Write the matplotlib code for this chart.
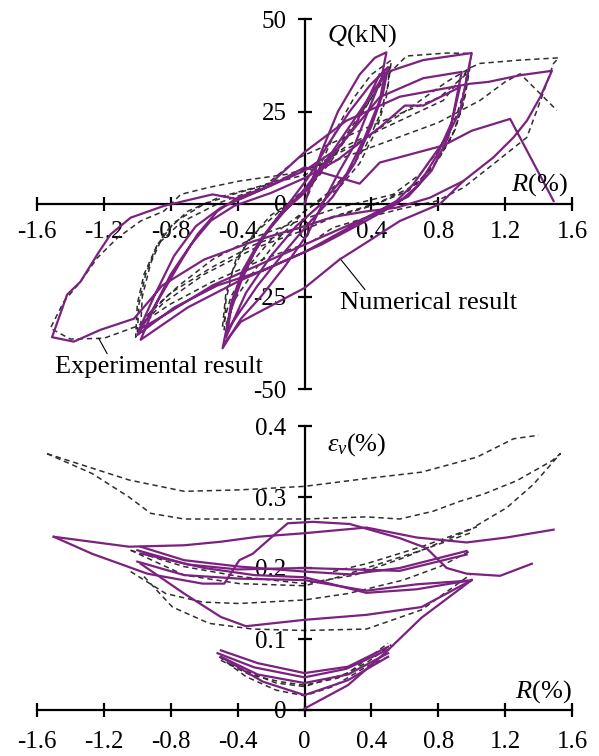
import matplotlib.pyplot as plt

plt.rcParams['font.family'] = 'Liberation Serif'
plt.rcParams['mathtext.fontset'] = 'custom'
plt.rcParams['mathtext.rm'] = 'Liberation Serif'
plt.rcParams['mathtext.it'] = 'Liberation Serif:italic'
plt.rcParams['axes.unicode_minus'] = False

PURPLE = '#7c2180'
GREY = '#2f2f2f'

# ---- Q-R hysteresis, numerical (R %, Q kN) ----
num_q_small = [(0, 0), (0.1, 14), (0.2, 25), (0.33, 35), (0.42, 39.5), (0.49, 41),
               (0.46, 34), (0.38, 25), (0.3, 16), (0.21, 9), (0.13, 2), (0.02, -8), (-0.12, -17),
               (-0.26, -25), (-0.38, -31), (-0.49, -39),
               (-0.45, -30), (-0.38, -21), (-0.3, -13), (-0.2, -6), (-0.08, 1), (0.02, 7), (0.14, 16),
               (0.27, 25), (0.39, 32), (0.5, 37),
               (0.47, 30), (0.4, 21), (0.3, 11), (0.17, 2), (0.03, -5), (-0.12, -13), (-0.28, -22),
               (-0.46, -34),
               (-0.43, -26), (-0.35, -17), (-0.25, -9), (-0.12, -2), (0, 4), (0.15, 13), (0.3, 23),
               (0.48, 35),
               (0.45, 28), (0.36, 18), (0.25, 8), (0.1, 0), (-0.05, -6), (-0.2, -14), (-0.35, -24),
               (-0.47, -36),
               (-0.44, -27), (-0.37, -18), (-0.27, -10), (-0.15, -3), (0, 3), (0.15, 12), (0.3, 21),
               (0.45, 35)]
num_q_mid = [(0.45, 35), (0.71, 38.9), (1.0, 40.8),
             (0.93, 25), (0.85, 18), (0.75, 11.7), (0.65, 5.3), (0.55, 0.8), (0.4, -3), (0.2, -8),
             (0, -13), (-0.25, -18), (-0.52, -22), (-0.78, -28), (-1.0, -35.4),
             (-0.88, -26.4), (-0.74, -15.5), (-0.64, -8.2), (-0.52, -1.9), (-0.4, 1.7), (-0.2, 5),
             (0, 9), (0.2, 15), (0.45, 28.9), (0.71, 34), (0.94, 35.7),
             (0.88, 22), (0.79, 13), (0.68, 5), (0.55, 0), (0.35, -5), (0.1, -11), (-0.15, -16),
             (-0.4, -21), (-0.7, -28), (-0.98, -36.7),
             (-0.9, -28), (-0.8, -19), (-0.68, -11), (-0.56, -4.5), (-0.42, -0.5), (-0.2, 3), (0, 7),
             (0.2, 12), (0.45, 20.7), (0.6, 26.6), (0.71, 26.6), (0.93, 31.6),
             (0.86, 18), (0.76, 9), (0.62, 2), (0.4, -3), (0.2, -7), (0, -11), (-0.3, -17),
             (-0.55, -22), (-0.8, -29), (-0.99, -34)]
num_q_large = [(-0.99, -34), (-0.9, -25), (-0.78, -14), (-0.65, -6), (-0.5, -1), (-0.23, 4.4),
               (0, 14), (0.25, 22.5), (0.57, 29), (0.99, 32.5), (1.1, 33), (1.29, 34.8), (1.48, 36),
               (1.41, 28.9), (1.33, 22.5), (1.25, 18), (1.13, 12.6), (0.95, 6.2), (0.75, 1.7),
               (0.55, -1), (0.37, -2), (0.17, -3.5), (0, -6), (-0.3, -10), (-0.6, -15), (-0.85, -22),
               (-1.02, -31), (-1.22, -34), (-1.38, -37.2), (-1.51, -36),
               (-1.42, -24.5), (-1.34, -21), (-1.24, -13.7), (-1.16, -8.2), (-1.04, -3.7),
               (-0.84, -0.5), (-0.55, 2.6), (-0.4, 1.3), (-0.2, 5), (0, 9.9), (0.21, 7.1),
               (0.33, 5.5), (0.45, 11.2), (0.83, 15.8), (1.0, 19.8), (1.23, 23), (1.49, 0.8)]
num_q_branch = [(-0.47, -37), (-0.38, -31.8), (0, -22.7), (0.21, -15), (0.35, -11), (0.57, -4.6),
                (0.81, 0), (0.95, 6.2)]

# ---- Q-R hysteresis, experimental ----
exp_q_small = [(0, 0), (0.1, 11), (0.2, 21), (0.3, 29), (0.4, 35), (0.52, 38.9),
               (0.5, 32), (0.45, 24), (0.37, 16), (0.27, 9), (0.14, 3), (0, -2), (-0.15, -9),
               (-0.3, -18), (-0.42, -26), (-0.48, -34),
               (-0.47, -26), (-0.43, -18), (-0.34, -10), (-0.2, -3), (0, 3), (0.15, 11), (0.3, 21),
               (0.43, 31), (0.51, 37),
               (0.49, 29), (0.43, 20), (0.33, 11), (0.2, 4), (0.03, -1), (-0.15, -7), (-0.32, -16),
               (-0.44, -25), (-0.49, -33),
               (-0.47, -24), (-0.41, -15), (-0.3, -8), (-0.15, -2), (0, 4), (0.15, 12), (0.3, 22),
               (0.42, 30), (0.5, 35)]
exp_q_mid = [(0.5, 35), (0.61, 40), (0.85, 40.8), (1.0, 40.7),
             (0.97, 33), (0.91, 24), (0.81, 15), (0.69, 8), (0.53, 2.6), (0.37, 0.8), (0.2, -1),
             (0, -4), (-0.3, -9), (-0.55, -15), (-0.75, -22), (-0.92, -29), (-1.0, -35),
             (-0.99, -27), (-0.95, -19), (-0.88, -11), (-0.78, -5), (-0.6, 0), (-0.4, 3),
             (-0.2, 5.5), (0.01, 8), (0.27, 16.2), (0.57, 22.5), (0.83, 28), (0.99, 37),
             (0.96, 29), (0.9, 20), (0.8, 12), (0.66, 5), (0.45, 0.5), (0.2, -3), (0, -6),
             (-0.3, -11), (-0.55, -17), (-0.8, -24), (-0.96, -31), (-1.01, -36),
             (-1.0, -27), (-0.96, -19), (-0.88, -11), (-0.74, -5), (-0.5, 0.5), (-0.25, 4.5),
             (-0.03, 12.6), (0.33, 19.8), (0.57, 24.4), (0.81, 28.9), (0.97, 35.2),
             (0.95, 27), (0.88, 18), (0.77, 10), (0.62, 3.5), (0.4, -0.5), (0.15, -4), (0, -7),
             (-0.3, -12), (-0.6, -19), (-0.85, -27), (-0.98, -33)]
exp_q_large = [(-0.98, -33), (-0.97, -25), (-0.92, -16), (-0.84, -8), (-0.7, -2), (-0.5, 2),
               (-0.25, 5), (0, 9), (0.3, 16), (0.6, 25), (0.85, 33), (1.0, 37), (1.05, 38),
               (1.29, 38.9), (1.52, 39.5),
               (1.49, 38), (1.42, 29), (1.33, 18), (1.13, 10.8), (0.95, 4.4), (0.79, 0.8),
               (0.57, -1.4), (0.37, -3.7), (0.17, -6.4), (0.05, -10), (-0.25, -15), (-0.55, -21),
               (-0.8, -27), (-1.0, -33), (-1.2, -36.3), (-1.4, -36.5), (-1.52, -33.6),
               (-1.44, -26.4), (-1.34, -21), (-1.24, -14.6), (-1.12, -9.2), (-0.98, -4.6),
               (-0.84, -1.9), (-0.74, 2.6), (-0.58, 4.4), (-0.39, 6.2), (-0.11, 8), (0.2, 12),
               (0.5, 17), (0.8, 22), (1.05, 28), (1.2, 33), (1.29, 35.2), (1.51, 25.3)]

# ---- volumetric strain vs R, numerical (R %, eps_v %) ----
num_ev_curves = [
    [(0, 0.002), (0.26, 0.035), (0.48, 0.08), (0.7, 0.13), (1.0, 0.183)],
    [(-0.5, 0.084), (-0.28, 0.066), (0, 0.052), (0.26, 0.061), (0.5, 0.089)],
    [(-0.52, 0.08), (-0.3, 0.06), (0, 0.046), (0.25, 0.058), (0.5, 0.085)],
    [(-0.5, 0.075), (-0.28, 0.05), (0, 0.038), (0.26, 0.05), (0.5, 0.08)],
    [(-0.48, 0.072), (-0.25, 0.04), (0, 0.021), (0.26, 0.042), (0.5, 0.075)],
    [(-0.98, 0.206), (-0.72, 0.164), (-0.5, 0.131), (-0.35, 0.118), (0, 0.127), (0.37, 0.134),
     (0.7, 0.145), (1.0, 0.183)],
    [(-1.0, 0.209), (-0.72, 0.19), (-0.39, 0.185), (0, 0.183), (0.37, 0.168), (0.67, 0.177),
     (0.97, 0.182)],
    [(-0.98, 0.23), (-0.72, 0.211), (-0.39, 0.202), (0, 0.195), (0.27, 0.191), (0.57, 0.2),
     (0.97, 0.224)],
    [(-1.0, 0.225), (-0.7, 0.205), (-0.4, 0.198), (0, 0.2), (0.57, 0.196), (0.97, 0.219)],
    [(-0.97, 0.22), (-0.6, 0.2), (-0.3, 0.19), (0, 0.187), (0.37, 0.165), (0.67, 0.17),
     (1.0, 0.183)],
    [(-1.5, 0.244), (-1.05, 0.23), (-0.72, 0.232), (-0.5, 0.237), (-0.28, 0.244), (0, 0.249),
     (0.37, 0.257), (0.67, 0.243), (0.97, 0.236), (1.21, 0.243), (1.49, 0.254)],
    [(-1.5, 0.244), (-1.27, 0.22), (-0.94, 0.192), (-0.61, 0.178), (-0.48, 0.178),
     (-0.39, 0.211), (-0.31, 0.22), (-0.17, 0.249), (-0.1, 0.263), (0.05, 0.265),
     (0.27, 0.262), (0.57, 0.242), (0.73, 0.228), (0.85, 0.2), (0.97, 0.192), (1.17, 0.189),
     (1.36, 0.206)],
]

# ---- volumetric strain vs R, experimental ----
exp_ev_curves = [
    [(-0.51, 0.075), (-0.35, 0.047), (-0.17, 0.028), (0, 0.02), (0.17, 0.033), (0.37, 0.061),
     (0.52, 0.077)],
    [(-0.5, 0.07), (-0.33, 0.05), (-0.15, 0.04), (0, 0.035), (0.2, 0.045), (0.38, 0.068),
     (0.52, 0.092)],
    [(-0.45, 0.065), (-0.3, 0.05), (-0.17, 0.038), (0, 0.033), (0.26, 0.052), (0.5, 0.094)],
    [(-0.96, 0.188), (-0.79, 0.145), (-0.57, 0.122), (-0.31, 0.114), (0, 0.112), (0.37, 0.114),
     (0.7, 0.141), (1.0, 0.192)],
    [(-1.04, 0.195), (-0.83, 0.164), (-0.61, 0.152), (-0.39, 0.15), (0, 0.155), (0.26, 0.164),
     (0.59, 0.183), (0.81, 0.202), (1.0, 0.225)],
    [(-1.04, 0.225), (-0.72, 0.202), (-0.39, 0.188), (0, 0.178), (0.3, 0.19), (0.6, 0.215),
     (1.03, 0.258)],
    [(-1.04, 0.225), (-0.72, 0.19), (-0.39, 0.178), (0, 0.175), (0.17, 0.185), (0.37, 0.2),
     (0.7, 0.225), (1.0, 0.25)],
    [(0.17, 0.195), (0.37, 0.206), (0.7, 0.23), (1.03, 0.258)],
    [(-1.54, 0.361), (-1.05, 0.324), (-0.72, 0.308), (-0.39, 0.31), (0, 0.315), (0.37, 0.326),
     (0.7, 0.335), (1.03, 0.356), (1.25, 0.382), (1.4, 0.387)],
    [(-1.54, 0.361), (-1.27, 0.333), (-1.05, 0.3), (-0.92, 0.277), (-0.72, 0.269),
     (-0.39, 0.269), (0, 0.269), (0.37, 0.272), (0.57, 0.269), (0.77, 0.28), (0.93, 0.294),
     (1.07, 0.304), (1.27, 0.323), (1.48, 0.351), (1.53, 0.361), (1.37, 0.318), (1.21, 0.285),
     (1.01, 0.257)],
]

r_ticks = [-1.6, -1.2, -0.8, -0.4, 0, 0.4, 0.8, 1.2, 1.6]
r_labels = ['-1.6', '-1.2', '-0.8', '-0.4', '0', '0.4', '0.8', '1.2', '1.6']
q_ticks = [-50, -25, 0, 25, 50]
q_labels = ['-50', '-25', '0', '25', '50']
ev_ticks = [0, 0.1, 0.2, 0.3, 0.4]
ev_labels = ['0', '0.1', '0.2', '0.3', '0.4']


def setup_axes(ax, xpad):
    for s in ['top', 'right']:
        ax.spines[s].set_visible(False)
    for s in ['left', 'bottom']:
        ax.spines[s].set_position(('data', 0))
        ax.spines[s].set_linewidth(1.6)
    ax.tick_params(direction='inout', length=10, width=1.6, labelsize=18)
    ax.tick_params(axis='x', pad=xpad)
    ax.tick_params(axis='y', pad=8)
    ax.set_xlim(-1.6, 1.6)
    ax.set_xticks(r_ticks)
    ax.set_xticklabels(r_labels)
    ax.patch.set_visible(False)


def draw(ax, curves, dashed):
    for pts in curves:
        r = [p[0] for p in pts]
        v = [p[1] for p in pts]
        if dashed:
            ax.plot(r, v, color=GREY, lw=1.1, ls=(0, (3.5, 2.5)), zorder=2)
        else:
            ax.plot(r, v, color=PURPLE, lw=1.6, solid_joinstyle='round', zorder=3)


fig = plt.figure(figsize=(5.99, 7.56), dpi=100)
ax1 = fig.add_axes([37 / 599, 1 - 389 / 756, 535 / 599, 370 / 756])
ax2 = fig.add_axes([37 / 599, 1 - 710 / 756, 535 / 599, 284 / 756])

# upper panel: shear force
setup_axes(ax1, 7)
ax1.set_ylim(-50, 50)
ax1.set_yticks(q_ticks)
ax1.set_yticklabels(q_labels)
draw(ax1, [exp_q_small, exp_q_mid, exp_q_large], True)
draw(ax1, [num_q_small, num_q_mid, num_q_large, num_q_branch], False)
ax1.text(0.133, 43.8, r'$\mathit{Q}$(kN)', fontsize=19, ha='left', va='baseline')
ax1.text(1.237, 3.5, r'$\mathit{R}$(%)', fontsize=19, ha='left', va='baseline')
ax1.plot([0.212, 0.361], [-14.7, -23.1], color='black', lw=0.8)
ax1.text(0.212, -28.5, 'Numerical result', fontsize=19, ha='left', va='baseline')
ax1.plot([-1.231, -1.181], [-36.3, -40.4], color='black', lw=0.8)
ax1.text(-1.49, -45.8, 'Experimental result', fontsize=19, ha='left', va='baseline')

# lower panel: volumetric strain
setup_axes(ax2, 10)
ax2.set_ylim(0, 0.4)
ax2.set_yticks(ev_ticks)
ax2.set_yticklabels(ev_labels)
draw(ax2, exp_ev_curves, True)
draw(ax2, num_ev_curves, False)
ax2.text(0.133, 0.366, r'$\varepsilon_{\mathit{v}}$(%)', fontsize=19, ha='left', va='baseline')
ax2.text(1.257, 0.017, r'$\mathit{R}$(%)', fontsize=19, ha='left', va='baseline')

fig.savefig('out.png', dpi=100)
